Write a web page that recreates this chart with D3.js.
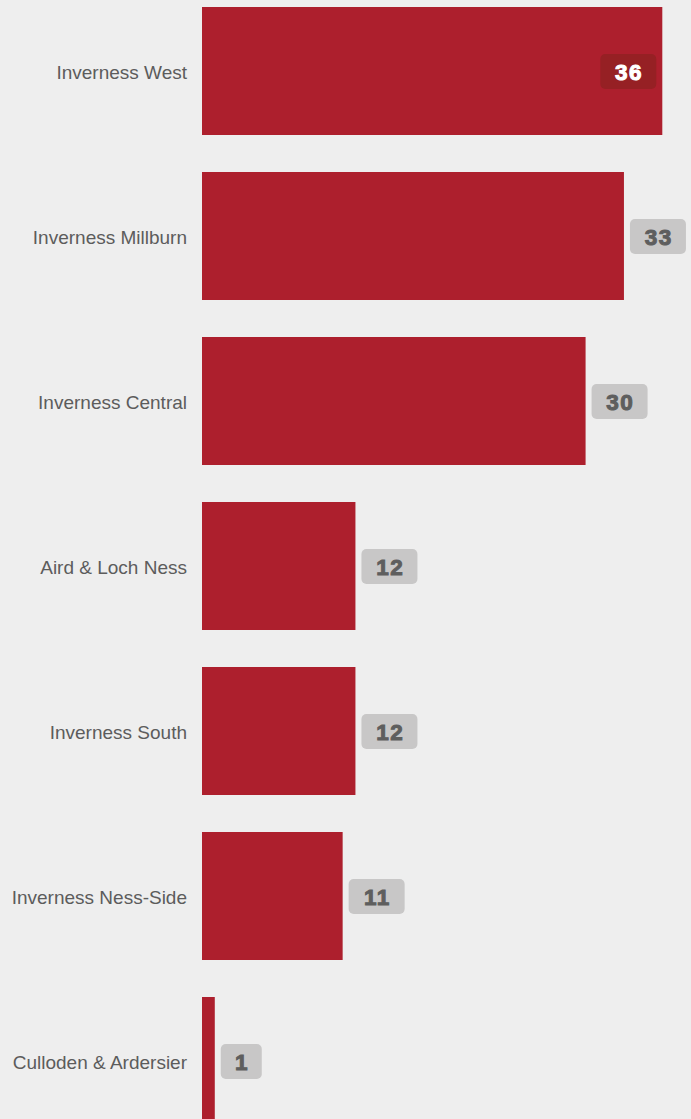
<!DOCTYPE html>
<html>
<head>
<meta charset="utf-8">
<script src="https://cdn.jsdelivr.net/npm/d3@7"></script>
<style>
  html, body { margin: 0; padding: 0; background: #eeeeee; }
  svg { display: block; }
</style>
</head>
<body>
<div id="chart"></div>
<script>
// values
const wards = ["Inverness West", "Inverness Millburn", "Inverness Central", "Aird & Loch Ness",
    "Inverness South", "Inverness Ness-Side", "Culloden & Ardersier"];
const counts = [36, 33, 30, 12, 12, 11, 1];

const width = 691, height = 1119;
const margin = {left: 202, right: 28.7};

let svg = d3.select("#chart")
    .append("svg")
    .attr("width", width)
    .attr("height", height)
    .style("background", "#eeeeee");

let data = wards.map(function(w, i) { return {ward: w, count: counts[i]}; });

let x = d3.scaleLinear()
    .domain([0, d3.max(counts)])
    .range([margin.left, width - margin.right]);

let y = d3.scaleBand()
    .domain(wards)
    .range([-11.5, 1143.5])
    .paddingInner(37 / 165)
    .paddingOuter(37 / 330);

// bars
svg.selectAll("rect.bar").data(data)
    .enter()
    .append("rect")
    .attr("class", "bar")
    .attr("x", x(0))
    .attr("y", function(d) { return y(d.ward); })
    .attr("width", function(d) { return x(d.count) - x(0); })
    .attr("height", y.bandwidth())
    .attr("fill", "#ad1f2d");

// category labels
svg.append("g")
    .attr("transform", `translate(${x(0) - 15},1.5)`)
    .call(d3.axisLeft(y).tickSize(0).tickPadding(0))
    .call(function(g) { g.select(".domain").remove(); })
    .selectAll("text")
    .attr("font-family", "'Liberation Sans', Arial, sans-serif")
    .attr("font-size", 19)
    .attr("fill", "#5c5c5c");

// value badges
const maxVal = d3.max(counts);
let badges = svg.selectAll("g.badge").data(data)
    .enter()
    .append("g")
    .attr("class", "badge");

badges.each(function(d) {
    let g = d3.select(this);
    let inside = d.count === maxVal;
    let col = inside ? "#ffffff" : "#5e5e5e";
    let txt = g.append("text")
        .attr("font-family", "'Liberation Sans', Arial, sans-serif")
        .attr("font-weight", "bold")
        .attr("font-size", 22.5)
        .attr("letter-spacing", 1.5)
        .attr("text-anchor", "middle")
        .attr("dy", "0.36em")
        .attr("fill", col)
        .attr("stroke", col)
        .attr("stroke-width", 1)
        .text(d.count);
    let bw = d.count < 10 ? 41 : 56;
    let bh = 35;
    let cy = y(d.ward) + y.bandwidth() / 2 + 0.5;
    let bx = inside ? x(d.count) - 6 - bw : x(d.count) + 6;
    g.insert("rect", "text")
        .attr("x", bx)
        .attr("y", cy - bh / 2)
        .attr("width", bw)
        .attr("height", bh)
        .attr("rx", 5)
        .attr("fill", inside ? "#962024" : "#c8c7c7");
    txt.attr("x", bx + bw / 2 + 0.75).attr("y", cy);
});
</script>
</body>
</html>
